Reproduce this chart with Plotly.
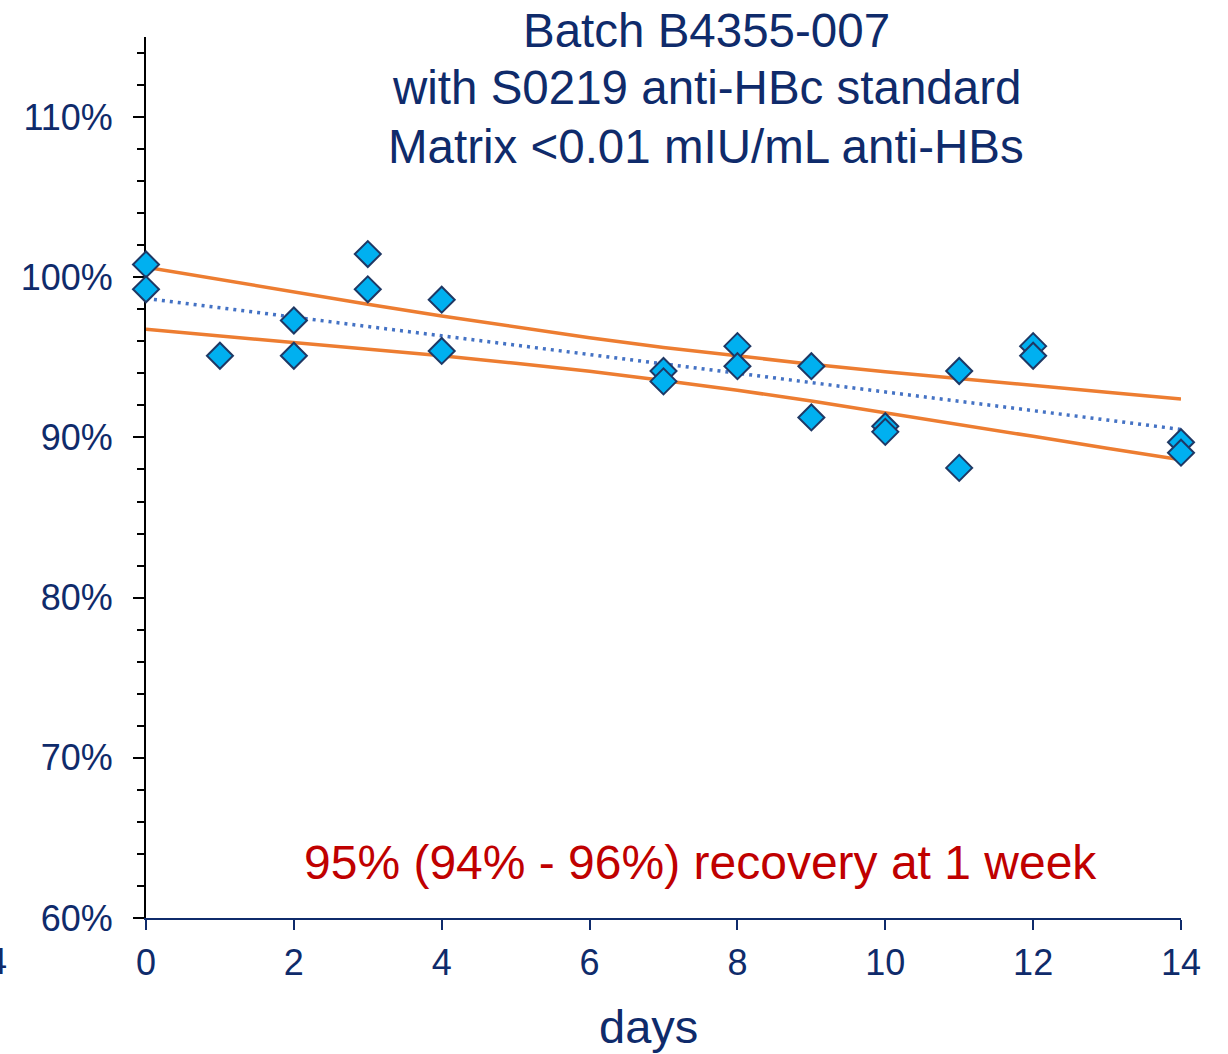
import plotly.graph_objects as go

# measured recovery (%) per day
days = [0, 0, 1, 2, 2, 3, 3, 4, 4, 7, 7, 8, 8, 9, 9, 10, 10, 11, 11, 12, 12, 14, 14]
recovery = [100.8, 99.25, 95.1, 97.3, 95.1, 101.45, 99.25, 98.6, 95.4,
            94.15, 93.5, 95.7, 94.45, 94.45, 91.25, 90.7, 90.35,
            94.15, 88.1, 95.7, 95.1, 89.7, 89.05]

# regression line and 95% confidence band
fit_days = [0, 1, 2, 3, 4, 5, 6, 7, 8, 9, 10, 11, 12, 13, 14]
fit = [98.68, 98.1, 97.51, 96.93, 96.34, 95.76, 95.18, 94.59, 94.01,
       93.42, 92.84, 92.26, 91.67, 91.09, 90.5]
upper = [100.63, 99.85, 99.07, 98.32, 97.58, 96.89, 96.23, 95.62, 95.07,
         94.57, 94.1, 93.66, 93.24, 92.82, 92.4]
lower = [96.75, 96.35, 95.95, 95.54, 95.1, 94.63, 94.13, 93.56, 92.95,
         92.27, 91.55, 90.82, 90.07, 89.33, 88.6]

x_ticks = [0, 2, 4, 6, 8, 10, 12, 14]
y_ticks = [60, 70, 80, 90, 100, 110]
y_labels = ["60%", "70%", "80%", "90%", "100%", "110%"]

title_lines = ["Batch B4355-007", "with S0219 anti-HBc standard",
               "Matrix <0.01 mIU/mL anti-HBs"]
note = "95% (94% - 96%) recovery at 1 week"

NAVY = "#0F2B6B"
FONT = "Liberation Sans, Arial, sans-serif"

fig = go.Figure()

fig.add_trace(go.Scatter(x=fit_days, y=upper, mode="lines",
                         line=dict(color="#ED7D31", width=3.5), hoverinfo="skip"))
fig.add_trace(go.Scatter(x=fit_days, y=lower, mode="lines",
                         line=dict(color="#ED7D31", width=3.5), hoverinfo="skip"))
fig.add_trace(go.Scatter(x=fit_days, y=fit, mode="lines",
                         line=dict(color="#4472C4", width=3.5, dash="3px,5px"),
                         hoverinfo="skip"))
fig.add_trace(go.Scatter(x=days, y=recovery, mode="markers", cliponaxis=False,
                         marker=dict(symbol="diamond", size=20, color="#00B0F0",
                                     line=dict(color="#1F3864", width=2))))

fig.update_layout(
    width=1228, height=1054,
    margin=dict(l=146, r=47, t=37, b=136),
    plot_bgcolor="white", paper_bgcolor="white",
    showlegend=False,
    font=dict(family=FONT, color=NAVY, size=36),
)

fig.update_xaxes(
    range=[0, 14], tickvals=x_ticks, ticks="outside", ticklen=10, tickwidth=2,
    tickcolor=NAVY, showline=True, linecolor=NAVY, linewidth=2,
    showgrid=False, zeroline=False, ticklabelstandoff=2,
    tickfont=dict(size=36, color=NAVY), layer="below traces",
)
fig.update_yaxes(
    range=[60, 115], tickvals=y_ticks, ticktext=y_labels, ticks="outside",
    ticklen=11, tickwidth=2, tickcolor="black", showline=True, linecolor="black",
    linewidth=2, showgrid=False, zeroline=False, ticklabelstandoff=13,
    tickfont=dict(size=36, color=NAVY), layer="below traces",
    minor=dict(dtick=2, tick0=60, ticks="outside", ticklen=7, tickwidth=2,
               tickcolor="black", showgrid=False),
)

plot_h = 1054 - 37 - 136
plot_w = 1228 - 146 - 47


def px_x(px):
    return (px - 146) / plot_w


def px_y(py):
    return (918 - py) / plot_h


for i, line in enumerate(title_lines):
    fig.add_annotation(text=line, xref="paper", yref="paper",
                       x=px_x(706), y=px_y(30 + 58 * i),
                       xanchor="center", yanchor="middle", showarrow=False,
                       font=dict(size=47.5, color=NAVY, family=FONT))

fig.add_annotation(text=note, xref="paper", yref="paper",
                   x=px_x(700), y=px_y(862), xanchor="center", yanchor="middle",
                   showarrow=False, font=dict(size=48, color="#C00000", family=FONT))

fig.add_annotation(text="days", xref="paper", yref="paper",
                   x=px_x(648), y=px_y(1026), xanchor="center", yanchor="middle",
                   showarrow=False, font=dict(size=47, color=NAVY, family=FONT))

# stray label clipped at the left edge of the original image
fig.add_annotation(text="14", xref="paper", yref="paper",
                   x=px_x(9), y=px_y(962), xanchor="right", yanchor="middle",
                   showarrow=False, font=dict(size=36, color=NAVY, family=FONT))

# drop the default page margin so the figure sits at the window's corner
fig.write_html("out.html", config={"displayModeBar": False},
               post_script="document.body.style.margin='0px';")
